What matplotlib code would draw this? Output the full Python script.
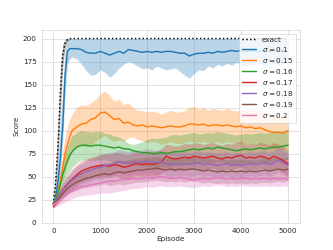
import numpy as np
import matplotlib
matplotlib.use("Agg")
import matplotlib.pyplot as plt
import seaborn as sns

sns.set_style("whitegrid")

# episode grid (denser at the start where the curves climb)
episodes = [0, 50, 100, 150, 200, 250, 300, 350, 400,
            500, 600, 700, 800, 900, 1000, 1100, 1200, 1300, 1400, 1500,
            1600, 1700, 1800, 1900, 2000, 2100, 2200, 2300, 2400, 2500,
            2600, 2700, 2800, 2900, 3000, 3100, 3200, 3300, 3400, 3500,
            3600, 3700, 3800, 3900, 4000, 4100, 4200, 4300, 4400, 4500,
            4600, 4700, 4800, 4900, 5000]

# exact
exact_mean = [20, 45, 85, 140, 182, 195, 199, 200, 200,
              200, 200, 200, 200, 200, 200, 200, 200, 200, 200, 200,
              200, 200, 200, 200, 200, 200, 200, 200, 200, 200,
              200, 200, 200, 200, 200, 200, 200, 200, 200, 200,
              200, 200, 200, 200, 200, 200, 200, 200, 200, 200,
              200, 200, 200, 200, 200]
exact_lo = [18, 35, 70, 120, 170, 190, 197, 199, 200,
            200, 200, 200, 200, 200, 200, 200, 200, 200, 200, 200,
            200, 200, 200, 200, 200, 200, 200, 200, 200, 200,
            200, 200, 200, 200, 200, 200, 200, 200, 200, 200,
            200, 200, 200, 200, 200, 200, 200, 200, 200, 200,
            200, 200, 200, 200, 200]
exact_hi = [22, 60, 110, 170, 194, 199, 200, 200, 200,
            200, 200, 200, 200, 200, 200, 200, 200, 200, 200, 200,
            200, 200, 200, 200, 200, 200, 200, 200, 200, 200,
            200, 200, 200, 200, 200, 200, 200, 200, 200, 200,
            200, 200, 200, 200, 200, 200, 200, 200, 200, 200,
            200, 200, 200, 200, 200]

# sigma = 0.1
s010_mean = [20, 28, 45, 70, 105, 160, 186, 189, 189,
             189, 188, 185, 184, 184, 186, 184, 182, 184, 186, 184,
             188, 187, 186, 185, 186, 185, 186, 185, 186, 186,
             185, 184, 184, 181, 183, 184, 184, 185, 184, 186,
             185, 186, 187, 186, 187, 186, 187, 186, 186, 187,
             186, 187, 186, 187, 186]
s010_lo = [18, 22, 35, 55, 88, 140, 172, 178, 180,
           178, 172, 165, 160, 161, 166, 163, 158, 162, 168, 172,
           175, 173, 170, 167, 168, 166, 170, 168, 166, 167,
           168, 164, 160, 157, 162, 166, 165, 170, 168, 172,
           170, 173, 171, 174, 172, 170, 172, 171, 173, 170,
           172, 174, 171, 173, 172]
s010_hi = [22, 38, 72, 105, 145, 188, 199, 200, 200,
           200, 200, 200, 200, 200, 200, 200, 200, 200, 200, 200,
           200, 200, 200, 200, 200, 200, 200, 200, 200, 200,
           200, 200, 200, 200, 200, 200, 200, 200, 200, 200,
           200, 200, 200, 200, 200, 200, 200, 200, 200, 200,
           200, 200, 200, 200, 200]

# sigma = 0.15
s015_mean = [20, 25, 33, 45, 60, 75, 85, 93, 100,
             104, 107, 108, 112, 114, 119, 120, 116, 112, 113, 108,
             109, 106, 105, 106, 104, 105, 104, 103, 104, 105,
             104, 104, 105, 107, 107, 106, 107, 105, 106, 106,
             105, 106, 105, 104, 105, 103, 104, 102, 103, 101,
             99, 98, 98, 97, 100]
s015_lo = [18, 20, 25, 32, 42, 55, 65, 72, 78,
           82, 84, 82, 84, 88, 92, 95, 90, 88, 90, 88,
           92, 93, 90, 89, 87, 88, 87, 85, 86, 88,
           86, 86, 87, 88, 88, 87, 88, 86, 87, 88,
           86, 88, 87, 86, 87, 85, 86, 84, 85, 83,
           82, 80, 80, 79, 82]
s015_hi = [22, 30, 42, 58, 78, 95, 105, 112, 118,
           125, 128, 127, 130, 134, 140, 143, 138, 132, 134, 128,
           130, 125, 122, 122, 120, 121, 120, 118, 120, 122,
           120, 120, 122, 125, 126, 123, 125, 122, 124, 123,
           122, 124, 122, 121, 123, 122, 123, 120, 121, 119,
           118, 117, 117, 116, 118]

# sigma = 0.16
s016_mean = [20, 25, 32, 42, 52, 60, 67, 73, 77,
             82, 84, 84, 83, 84, 84, 83, 82, 81, 82, 80,
             80, 78, 77, 76, 76, 75, 75, 76, 75, 76,
             77, 77, 78, 79, 80, 79, 80, 81, 80, 82,
             81, 80, 79, 78, 79, 80, 79, 80, 81, 80,
             81, 82, 82, 83, 84]
s016_lo = [18, 20, 24, 32, 40, 46, 52, 56, 60,
           65, 68, 68, 67, 68, 68, 68, 67, 65, 66, 64,
           65, 63, 62, 61, 61, 60, 60, 61, 60, 61,
           62, 62, 63, 64, 65, 64, 65, 66, 65, 67,
           66, 65, 64, 63, 64, 65, 64, 65, 66, 65,
           66, 67, 67, 68, 69]
s016_hi = [22, 30, 40, 52, 65, 75, 83, 90, 94,
           98, 100, 99, 98, 99, 99, 97, 96, 94, 93, 90,
           86, 85, 86, 88, 90, 92, 91, 92, 93, 95,
           96, 95, 96, 97, 98, 96, 97, 98, 97, 99,
           98, 97, 96, 95, 96, 97, 96, 97, 98, 97,
           98, 99, 99, 100, 101]

# sigma = 0.17
s017_mean = [17, 22, 27, 31, 35, 39, 42, 45, 47,
             52, 56, 58, 60, 61, 62, 62, 61, 63, 62, 60,
             61, 63, 64, 63, 64, 63, 64, 66, 72, 70,
             69, 70, 71, 70, 72, 71, 70, 71, 72, 70,
             69, 71, 70, 72, 73, 70, 71, 70, 72, 71,
             69, 72, 70, 67, 64]
s017_lo = [15, 18, 21, 24, 27, 29, 31, 33, 35,
           40, 44, 46, 48, 49, 50, 50, 49, 51, 49, 47,
           48, 50, 51, 50, 51, 50, 51, 53, 58, 57,
           56, 57, 58, 57, 59, 58, 57, 58, 59, 57,
           56, 58, 57, 59, 60, 57, 58, 57, 59, 58,
           56, 59, 57, 54, 51]
s017_hi = [20, 26, 32, 37, 42, 47, 51, 55, 58,
           63, 67, 69, 71, 72, 74, 75, 74, 76, 76, 74,
           74, 76, 77, 76, 77, 77, 78, 80, 85, 84,
           83, 84, 86, 85, 87, 86, 85, 86, 87, 85,
           84, 86, 85, 87, 88, 85, 86, 85, 87, 86,
           84, 87, 85, 82, 79]

# sigma = 0.18
s018_mean = [20, 23, 27, 31, 35, 38, 41, 44, 46,
             50, 53, 55, 57, 59, 60, 62, 63, 64, 66, 65,
             64, 66, 65, 66, 67, 66, 65, 66, 64, 63,
             64, 63, 64, 63, 64, 65, 63, 64, 63, 62,
             63, 64, 62, 63, 62, 63, 64, 63, 64, 65,
             63, 65, 68, 65, 62]
s018_lo = [18, 20, 22, 25, 28, 30, 32, 35, 36,
           39, 42, 43, 45, 47, 47, 49, 50, 51, 53, 52,
           51, 53, 52, 53, 54, 53, 52, 53, 51, 50,
           51, 50, 51, 50, 51, 52, 50, 51, 50, 49,
           50, 51, 49, 50, 49, 50, 51, 50, 51, 52,
           50, 52, 55, 52, 49]
s018_hi = [22, 27, 32, 37, 42, 46, 50, 53, 56,
           61, 64, 67, 69, 71, 73, 75, 76, 77, 79, 78,
           77, 79, 78, 79, 80, 79, 78, 79, 77, 76,
           77, 76, 77, 76, 77, 78, 76, 77, 76, 75,
           76, 77, 75, 76, 75, 76, 77, 76, 77, 78,
           76, 78, 81, 78, 75]

# sigma = 0.19
s019_mean = [20, 22, 25, 28, 31, 34, 37, 39, 41,
             44, 46, 48, 49, 51, 52, 53, 52, 54, 55, 54,
             55, 56, 57, 57, 58, 58, 59, 58, 57, 58,
             57, 58, 57, 58, 58, 57, 56, 57, 56, 55,
             56, 55, 56, 55, 56, 55, 56, 55, 56, 57,
             56, 57, 58, 57, 58]
s019_lo = [18, 19, 21, 23, 25, 28, 30, 32, 33,
           35, 37, 38, 39, 40, 41, 42, 40, 41, 42, 41,
           42, 43, 44, 44, 45, 45, 46, 45, 44, 45,
           44, 45, 44, 45, 45, 44, 43, 44, 43, 42,
           43, 42, 43, 42, 43, 42, 43, 42, 43, 44,
           43, 44, 45, 44, 45]
s019_hi = [22, 25, 29, 33, 37, 40, 44, 46, 49,
           53, 56, 58, 60, 62, 64, 65, 65, 67, 68, 67,
           68, 69, 70, 70, 71, 71, 72, 71, 70, 71,
           70, 71, 70, 71, 71, 70, 69, 70, 69, 68,
           69, 68, 69, 68, 69, 68, 69, 68, 69, 70,
           69, 70, 71, 70, 71]

# sigma = 0.2
s020_mean = [19, 21, 23, 25, 27, 29, 31, 33, 34,
             37, 39, 40, 41, 42, 43, 44, 45, 45, 46, 47,
             47, 48, 47, 48, 49, 48, 49, 50, 49, 48,
             48, 49, 48, 47, 46, 47, 48, 47, 48, 49,
             48, 47, 48, 47, 48, 48, 47, 48, 47, 48,
             47, 48, 47, 48, 47]
s020_lo = [16, 17, 18, 19, 21, 22, 24, 25, 26,
           28, 29, 30, 30, 31, 32, 32, 32, 33, 34, 35,
           36, 37, 37, 38, 39, 38, 39, 40, 39, 39,
           39, 40, 39, 38, 38, 39, 40, 39, 40, 41,
           40, 39, 40, 39, 40, 40, 39, 40, 39, 40,
           39, 40, 39, 40, 39]
s020_hi = [21, 24, 27, 30, 33, 36, 38, 40, 42,
           45, 48, 50, 51, 52, 53, 55, 56, 56, 57, 58,
           58, 59, 57, 58, 59, 58, 59, 60, 59, 58,
           57, 58, 57, 56, 55, 56, 57, 56, 57, 58,
           57, 56, 57, 56, 57, 57, 56, 57, 56, 57,
           56, 57, 56, 57, 56]

series = [
    (r"$\sigma=0.1$", s010_mean, s010_lo, s010_hi, "C0"),
    (r"$\sigma=0.15$", s015_mean, s015_lo, s015_hi, "C1"),
    (r"$\sigma=0.16$", s016_mean, s016_lo, s016_hi, "C2"),
    (r"$\sigma=0.17$", s017_mean, s017_lo, s017_hi, "C3"),
    (r"$\sigma=0.18$", s018_mean, s018_lo, s018_hi, "C4"),
    (r"$\sigma=0.19$", s019_mean, s019_lo, s019_hi, "C5"),
    (r"$\sigma=0.2$", s020_mean, s020_lo, s020_hi, "C6"),
]

fig, ax = plt.subplots(figsize=(333 / 52, 250 / 52), dpi=52)

ax.fill_between(episodes, exact_lo, exact_hi, color="gray", alpha=0.6, lw=0)
ax.plot(episodes, exact_mean, color="black", linestyle=":", lw=2, label="exact")

for label, mean, lo, hi, col in series:
    ax.fill_between(episodes, lo, hi, color=col, alpha=0.3, lw=0)
    ax.plot(episodes, mean, color=col, lw=2, label=label)

ax.set_xlabel("Episode")
ax.set_ylabel("Score")
ax.set_xticks([0, 1000, 2000, 3000, 4000, 5000])
ax.set_yticks([0, 25, 50, 75, 100, 125, 150, 175, 200])
# legend is a bit tighter than the default spacing
ax.legend(loc="upper right", frameon=True, labelspacing=0.28)

fig.savefig("out.png", dpi=52)
